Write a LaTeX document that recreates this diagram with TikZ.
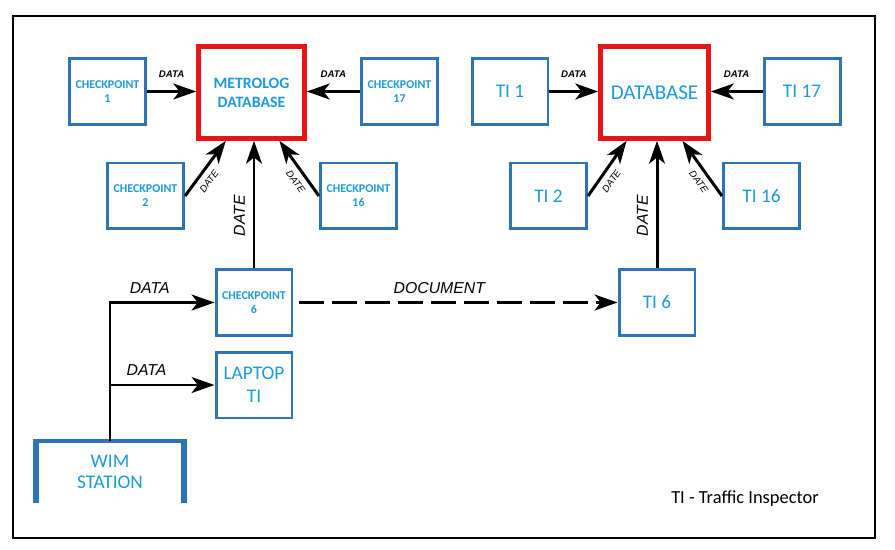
\documentclass[tikz,border=0pt]{standalone}
\usepackage{fontspec}
\setmainfont{Carlito}
\newfontfamily\lblfont{Liberation Sans}
\usetikzlibrary{arrows.meta}
\definecolor{boxblue}{RGB}{46,117,182}
\definecolor{txtblue}{RGB}{28,155,215}
\definecolor{dbred}{RGB}{228,22,22}
\begin{document}
\begin{tikzpicture}[x=0.02cm, y=-0.02cm,
  unit/.style={draw=boxblue, line width=1.7pt, text=txtblue, minimum width=1.52cm, minimum height=1.32cm, align=center, inner sep=1pt},
  cpunit/.style={unit, font=\fontsize{6.8}{8}\selectfont\bfseries},
  tiunit/.style={unit, font=\fontsize{11}{13}\selectfont},
  dbunit/.style={draw=dbred, line width=2.6pt, text=txtblue, minimum height=1.84cm, align=center},
  wimside/.style={draw=boxblue, line width=3.4pt},
  wimtop/.style={draw=boxblue, line width=2.3pt},
  flow/.style={-{Stealth[length=13pt, width=9pt, inset=3.5pt]}, line width=1.7pt},
  tag/.style={font=\lblfont\fontsize{5.5}{6}\selectfont\itshape\bfseries},
  slant/.style={font=\lblfont\fontsize{5.5}{6}\selectfont\itshape, sloped},
  bigtag/.style={font=\lblfont\fontsize{9}{10}\selectfont\itshape}]
\useasboundingbox (0,0) rectangle (895,550);
\draw[line width=0.9pt] (13,16) rectangle (875,538);

% metrolog side
\node[dbunit, minimum width=2.12cm, font=\fontsize{9}{10.8}\selectfont\bfseries] (metro) at (251.5,92.5) {METROLOG\\DATABASE};
\node[cpunit] (cp1) at (107.5,91.5) {CHECKPOINT\\1};
\node[cpunit] (cp17) at (399.5,91.5) {CHECKPOINT\\17};
\node[cpunit] (cp2) at (145.5,196) {CHECKPOINT\\2};
\node[cpunit] (cp16) at (358.5,196) {CHECKPOINT\\16};
\node[cpunit] (cp6) at (254,302.5) {CHECKPOINT\\6};
\node[tiunit] (lap) at (254,385) {LAPTOP\\TI};
\node[text=txtblue, minimum width=2.96cm, minimum height=1.24cm, align=center, font=\fontsize{11}{12}\selectfont] (wim) at (110,472) {WIM\\STATION};
\draw[wimside] (wim.south west) -- ([yshift=1.2pt]wim.north west);
\draw[wimside] (wim.south east) -- ([yshift=1.2pt]wim.north east);
\draw[wimtop] (wim.north west) -- (wim.north east);

% inspector side
\node[dbunit, minimum width=2.16cm, font=\fontsize{12}{14}\selectfont] (db) at (654.5,92.5) {DATABASE};
\node[tiunit] (ti1) at (510,91.5) {TI 1};
\node[tiunit] (ti17) at (802,91.5) {TI 17};
\node[tiunit] (ti2) at (548.5,196) {TI 2};
\node[tiunit] (ti16) at (761.5,196) {TI 16};
\node[tiunit] (ti6) at (657,302.5) {TI 6};

\node[font=\fontsize{10.5}{12}\selectfont] (key) at (745,499) {TI - Traffic Inspector};

% edges
\path[flow] (cp1.east) edge node[tag, above=4pt] {DATA} (cp1.east -| metro.west); % cp1 to metro
\path[flow] (cp17.west) edge node[tag, above=4pt] {DATA} (cp17.west -| metro.east); % cp17 to metro
\path[flow] (cp2.east) edge node[slant, below, pos=0.38] {DATE} (metro.242); % cp2 to metro
\path[flow] (cp16.west) edge node[slant, below, pos=0.37] {DATE} (metro.300); % cp16 to metro
\path[flow] (cp6.north) edge node[bigtag, sloped, above=1pt, pos=0.41] {DATE} (cp6.north |- metro.south); % cp6 to metro

\path[flow] (ti1.east) edge node[tag, above=4pt] {DATA} (ti1.east -| db.west); % ti1 to db
\path[flow] (ti17.west) edge node[tag, above=4pt] {DATA} (ti17.west -| db.east); % ti17 to db
\path[flow] (ti2.east) edge node[slant, below, pos=0.38] {DATE} (db.240); % ti2 to db
\path[flow] (ti16.west) edge node[slant, below, pos=0.37] {DATE} (db.300); % ti16 to db
\path[flow] (ti6.north) edge node[bigtag, sloped, above=1pt, pos=0.41] {DATE} (ti6.north |- db.south); % ti6 to db

\coordinate (split) at (wim.north |- lap.west);
\draw[flow] (wim.north) |- node[bigtag, above=1pt, pos=0.69] {DATA} (cp6.west); % wim to cp6
\draw[flow] (split) -- node[bigtag, above=1pt, pos=0.35] {DATA} (lap.west); % wim to laptop
\draw[flow, dash pattern=on 0.5cm off 0.16cm, shorten <=3pt] (cp6.east) -- node[bigtag, above=1pt, pos=0.45] {DOCUMENT} (ti6.west); % cp6 to ti6
\end{tikzpicture}
\end{document}
